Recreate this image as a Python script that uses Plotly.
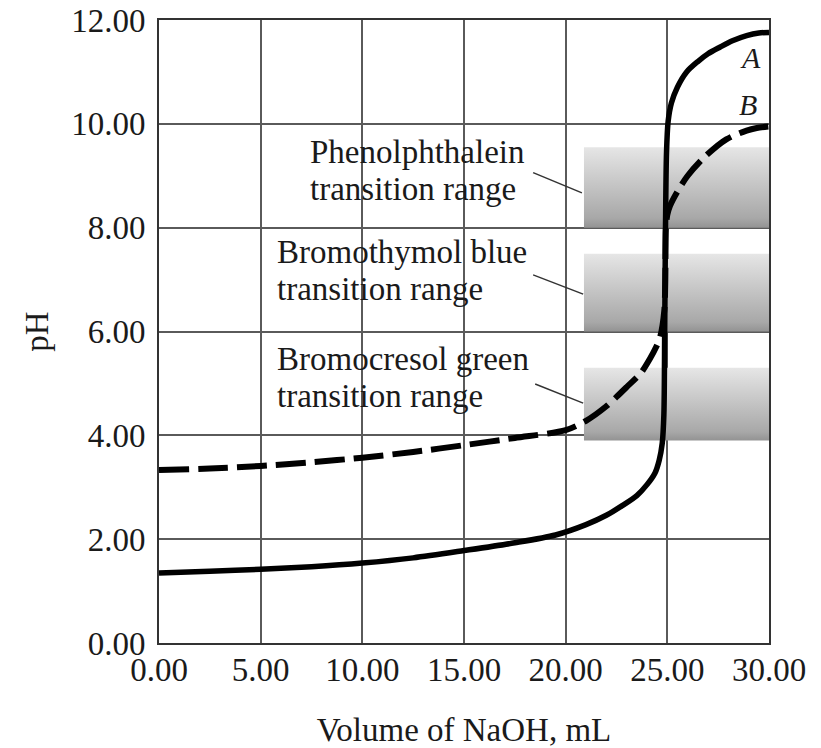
import plotly.graph_objects as go

# ---- data ----
vol_a = [0, 2.5, 5, 7.5, 10, 12.5, 15, 17.5, 19.5, 21, 22, 22.8, 23.5, 24.0, 24.4, 24.6,
         24.75, 24.83, 24.87, 24.91, 24.96, 25.04, 25.2, 25.5, 25.95, 26.5, 27.0,
         27.6, 28.2, 28.9, 29.5, 30.0]
ph_a = [1.35, 1.38, 1.42, 1.47, 1.54, 1.64, 1.78, 1.93, 2.08, 2.28, 2.46, 2.65, 2.84, 3.05, 3.28, 3.52,
        3.85, 4.4, 6.0, 8.0, 9.45, 10.05, 10.4, 10.71, 11.0, 11.2, 11.35,
        11.48, 11.6, 11.7, 11.75, 11.76]

vol_b = [0, 2.5, 5, 7.5, 10, 12.5, 15, 17.5, 20, 21, 22, 22.5, 23.0, 23.7, 24.15, 24.45, 24.65,
         24.85, 24.9, 24.93, 25.0, 25.13, 25.5, 26.0, 26.8, 27.9, 28.9, 29.4, 30.0]
ph_b = [3.33, 3.36, 3.41, 3.48, 3.57, 3.68, 3.81, 3.95, 4.1, 4.28, 4.56, 4.74, 4.93, 5.2, 5.48, 5.7, 5.9,
        6.4, 7.0, 8.0, 8.25, 8.42, 8.7, 9.0, 9.35, 9.7, 9.87, 9.92, 9.95]

x_ticks = [0, 5, 10, 15, 20, 25, 30]
y_ticks = [0, 2, 4, 6, 8, 10, 12]

band_names = ["Phenolphthalein", "Bromothymol blue", "Bromocresol green"]
band_low = [8.0, 6.0, 3.9]
band_high = [9.55, 7.5, 5.3]
band_x = [20.9, 30.0]

FONT = "Liberation Serif, Times New Roman, serif"
INK = "#1a1a1a"
GRID = "#5a5a5a"

fig = go.Figure()

# indicator transition bands (vertical gradient)
for name, lo, hi in zip(band_names, band_low, band_high):
    fig.add_trace(go.Scatter(
        x=[band_x[0], band_x[1], band_x[1], band_x[0], band_x[0]],
        y=[lo, lo, hi, hi, lo],
        mode="lines", line=dict(width=0), fill="toself",
        fillgradient=dict(type="vertical",
                          colorscale=[[0, "#939393"], [0.12, "#a8a8a8"], [1, "#e6e6e6"]]),
        hoverinfo="skip", showlegend=False, name=name))

# curve B (dashed)
fig.add_trace(go.Scatter(x=vol_b, y=ph_b, mode="lines",
                         line=dict(color="black", width=6, dash="30px,9px", shape="spline", smoothing=0.8),
                         showlegend=False, name="B"))
# curve A (solid)
fig.add_trace(go.Scatter(x=vol_a, y=ph_a, mode="lines",
                         line=dict(color="black", width=5.5, shape="spline", smoothing=0.8),
                         showlegend=False, name="A"))

annotations = []
def txt(x, y, s, size=33):
    annotations.append(dict(x=x, y=y, xref="x", yref="y", text=s,
                            showarrow=False, xanchor="left", yanchor="middle",
                            font=dict(family=FONT, size=size, color=INK)))

txt(7.33, 9.46, "Phenolphthalein")
txt(7.33, 8.75, "transition range")
txt(5.71, 7.53, "Bromothymol blue")
txt(5.71, 6.82, "transition range")
txt(5.71, 5.47, "Bromocresol green")
txt(5.71, 4.76, "transition range")
annotations.append(dict(x=29.07, y=11.27, text="<i>A</i>", showarrow=False, xanchor="center", yanchor="middle",
                        font=dict(family=FONT, size=30, color=INK)))
annotations.append(dict(x=28.97, y=10.37, text="<i>B</i>", showarrow=False, xanchor="center", yanchor="middle",
                        font=dict(family=FONT, size=30, color=INK)))

shapes = []
for (x0, y0, x1, y1) in [(18.4, 9.06, 20.8, 8.67), (18.4, 7.09, 20.86, 6.72), (18.5, 4.99, 20.86, 4.62)]:
    shapes.append(dict(type="line", xref="x", yref="y", x0=x0, y0=y0, x1=x1, y1=y1,
                       line=dict(color="#333333", width=1.5)))

fig.update_layout(
    width=821, height=748,
    margin=dict(l=159, r=52, t=20, b=105),
    paper_bgcolor="white", plot_bgcolor="white",
    font=dict(family=FONT, size=33, color=INK),
    annotations=annotations, shapes=shapes,
    showlegend=False,
)
fig.update_xaxes(range=[0, 30], tickvals=x_ticks, tickformat=".2f", showgrid=True, gridcolor=GRID, gridwidth=2,
                 zeroline=False, showline=True, linecolor="#333333", linewidth=2, mirror=True,
                 ticks="", ticklabelstandoff=-4, automargin=False, ticklabeloverflow="allow",
                 title=dict(text="Volume of NaOH, mL", font=dict(family=FONT, size=33, color=INK), standoff=33))
fig.update_yaxes(range=[0, 12], tickvals=y_ticks, tickformat=".2f", showgrid=True, gridcolor=GRID, gridwidth=2,
                 zeroline=False, showline=True, linecolor="#333333", linewidth=2, mirror=True,
                 ticks="", ticklabelstandoff=5, automargin=False, ticklabeloverflow="allow",
                 title=dict(text="pH", font=dict(family=FONT, size=33, color=INK), standoff=13))

# remove the browser's default 8px body margin so the figure sits at the page origin
fig.write_html("out.html", config={"displayModeBar": False},
               post_script="document.body.style.margin='0';")
